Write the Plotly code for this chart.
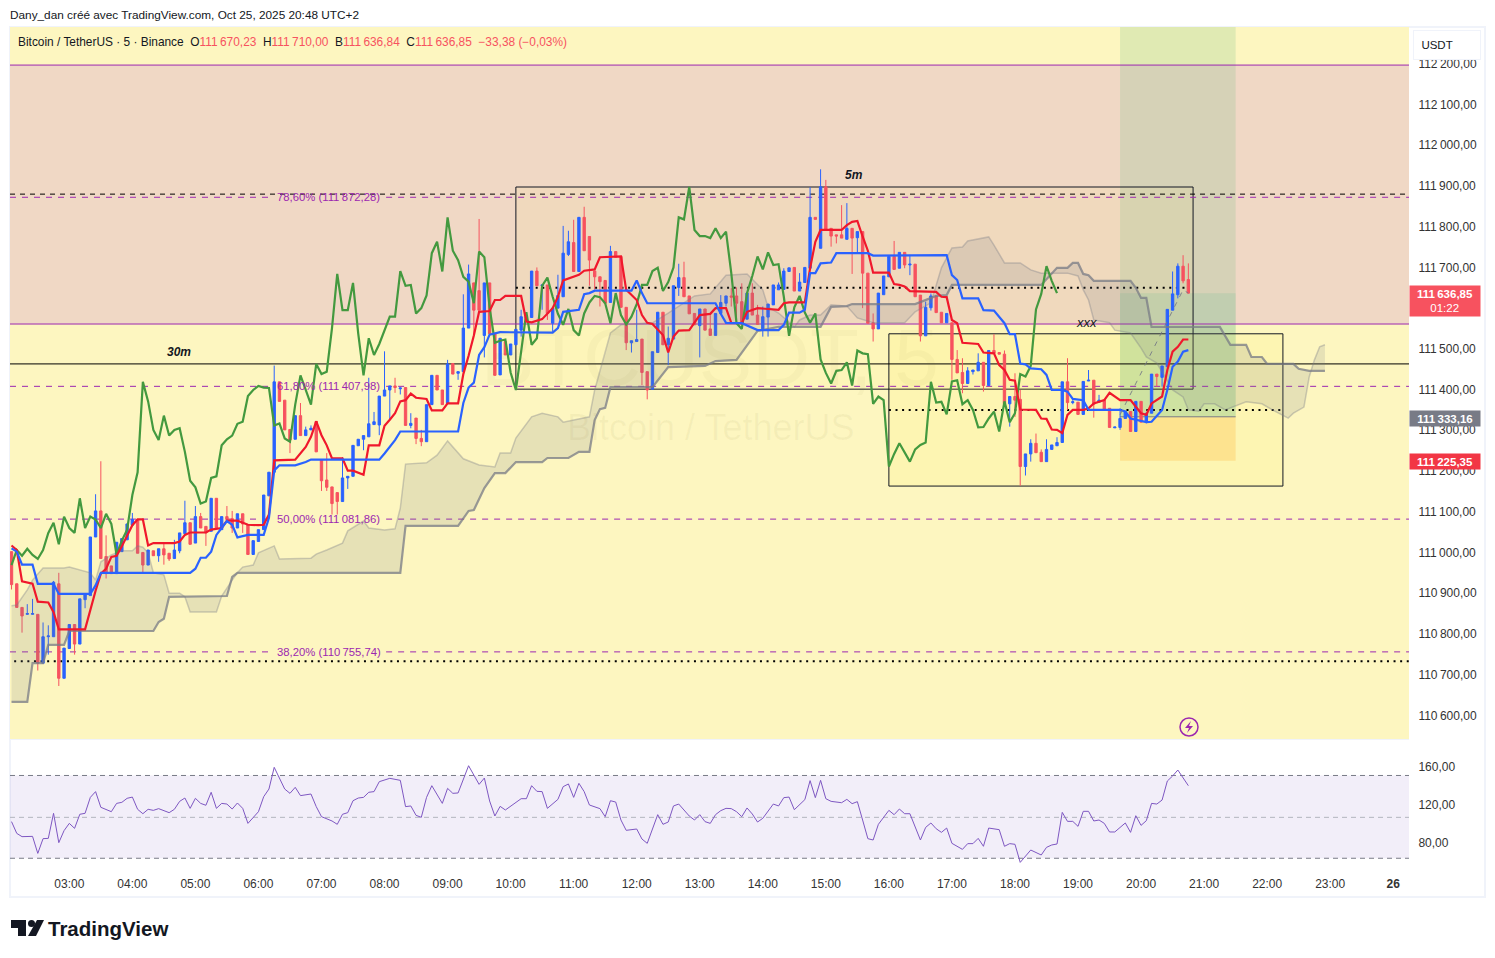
import plotly.graph_objects as go

# ---------- candles (bar 0 = 02:05, 5 min bars) ----------
OPEN = [111002,110923,110865,110848,110848,110848,110728,110793,110793,110923,
110691,110764,110823,110775,110884,110894,111038,111102,110990,110967,
110948,111002,111031,111067,111081,111000,110969,111004,110992,111009,
110998,110985,111004,111046,111073,111023,111088,111064,111052,111133,
111056,111088,111083,111060,111095,111068,110995,111027,111056,111139,
111197,111419,111374,111302,111278,111336,111287,111301,111322,111228,
111178,111161,111147,111125,111183,111187,111262,111278,111284,111314,
111313,111384,111399,111409,111402,111405,111312,111330,111280,111272,
111363,111435,111399,111366,111464,111440,111444,111551,111662,111643,
111533,111662,111537,111436,111518,111485,111510,111546,111577,111577,
111691,111655,111657,111563,111600,111628,111732,111761,111690,111823,
111776,111691,111677,111668,111614,111739,111727,111602,111515,111518,
111524,111444,111401,111491,111590,111510,111524,111651,111675,111630,
111587,111557,111598,111549,111533,111587,111612,111630,111630,111616,
111573,111637,111583,111546,111578,111608,111645,111646,111690,111700,
111642,111663,111698,111823,111747,111898,111796,111780,111780,111769,
111796,111773,111788,111686,111564,111549,111633,111677,111727,111698,
111737,111706,111708,111632,111532,111601,111630,111590,111564,111564,
111474,111442,111415,111444,111446,111467,111410,111496,111491,111487,
111365,111383,111376,111211,111242,111268,111246,111223,111253,111262,
111270,111419,111368,111369,111339,111421,111423,111369,111374,111354,
111306,111307,111329,111346,111297,111371,111320,111342,111438,111430,
111456,111595,111633,111703,111670.23]
CLOSE = [110921,110865,110844,110850,110850,110728,110793,110795,110927,110691,
110765,110823,110775,110886,110896,111038,111102,110985,110948,110948,
111025,111034,111070,111081,110998,110969,111006,110992,111009,110994,
110984,111006,111048,111073,111020,111088,111060,111048,111133,111060,
111088,111081,111060,111095,111070,110995,111029,111056,111141,111197,
111419,111371,111301,111276,111336,111287,111301,111305,111247,111176,
111160,111120,111125,111183,111187,111263,111278,111287,111316,111321,
111384,111399,111409,111405,111404,111312,111317,111280,111272,111363,
111435,111399,111363,111463,111438,111444,111551,111684,111595,111595,
111662,111537,111435,111526,111485,111512,111548,111579,111579,111691,
111655,111657,111587,111600,111631,111735,111763,111690,111823,111741,
111718,111677,111665,111612,111739,111725,111602,111515,111520,111523,
111442,111399,111493,111590,111510,111526,111655,111675,111628,111586,
111559,111598,111546,111533,111587,111614,111630,111627,111612,111563,
111637,111583,111560,111579,111610,111657,111657,111691,111699,111642,
111664,111700,111823,111818,111898,111792,111777,111777,111772,111796,
111772,111788,111686,111563,111549,111637,111679,111727,111695,111737,
111706,111708,111628,111532,111602,111630,111589,111564,111587,111474,
111441,111415,111446,111448,111467,111410,111496,111489,111487,111365,
111383,111374,111211,111242,111268,111245,111223,111253,111264,111270,
111419,111368,111370,111339,111420,111423,111364,111374,111350,111307,
111308,111329,111346,111297,111371,111320,111342,111438,111432,111458,
111597,111635,111703,111667,111636.85]
HIGH = [111002,110923,110865,110873,110886,110848,110828,110821,110930,110950,
110765,110823,110823,110886,110896,111038,111143,111224,111042,110967,
111025,111034,111070,111097,111081,111000,111006,111004,111009,111023,
110998,111031,111048,111127,111073,111114,111097,111064,111133,111133,
111088,111114,111102,111095,111095,111068,111029,111056,111141,111197,
111459,111419,111374,111302,111336,111367,111309,111312,111322,111228,
111244,111161,111147,111234,111187,111263,111278,111287,111429,111345,
111384,111494,111409,111429,111405,111405,111342,111330,111301,111363,
111435,111435,111399,111473,111464,111444,111634,111707,111662,111819,
111662,111662,111537,111526,111518,111512,111548,111596,111579,111691,
111700,111657,111657,111600,111682,111802,111790,111817,111823,111849,
111776,111691,111677,111668,111753,111739,111727,111602,111520,111596,
111524,111444,111493,111590,111590,111555,111655,111709,111714,111630,
111587,111598,111598,111583,111587,111632,111630,111649,111651,111661,
111637,111661,111608,111604,111610,111657,111663,111698,111699,111700,
111686,111700,111897,111823,111941,111915,111796,111780,111853,111858,
111796,111788,111788,111686,111587,111637,111679,111727,111765,111737,
111737,111731,111708,111632,111616,111636,111630,111590,111587,111564,
111497,111477,111455,111448,111489,111467,111496,111536,111491,111496,
111383,111440,111399,111242,111278,111292,111253,111278,111264,111283,
111419,111477,111374,111369,111420,111448,111423,111387,111374,111354,
111308,111354,111346,111346,111371,111371,111342,111438,111438,111458,
111597,111690,111710,111730,111710]
LOW = [110909,110865,110803,110847,110847,110710,110728,110749,110793,110672,
110691,110764,110749,110775,110863,110894,111038,110985,110936,110948,
110948,111002,111031,111067,110998,110950,110969,110992,110977,110970,
110979,110985,110998,111046,111020,111023,111060,111016,111052,111060,
111056,111081,111048,111060,111048,110995,110995,111027,111056,111139,
111197,111371,111301,111244,111278,111287,111287,111301,111247,111151,
111151,111093,111093,111125,111156,111187,111262,111251,111284,111314,
111288,111384,111326,111392,111388,111312,111305,111266,111261,111272,
111363,111399,111363,111366,111438,111424,111444,111551,111533,111595,
111479,111537,111435,111436,111485,111485,111510,111530,111577,111577,
111655,111596,111571,111542,111600,111628,111728,111690,111690,111741,
111655,111646,111604,111612,111614,111725,111602,111497,111491,111518,
111411,111376,111401,111491,111510,111460,111524,111630,111628,111586,
111559,111479,111546,111533,111533,111587,111604,111604,111567,111563,
111573,111583,111560,111530,111530,111608,111645,111646,111690,111642,
111642,111663,111698,111818,111747,111792,111751,111759,111772,111769,
111684,111736,111600,111563,111518,111549,111633,111677,111695,111698,
111698,111681,111628,111518,111532,111594,111589,111564,111564,111424,
111441,111391,111415,111437,111446,111395,111410,111489,111487,111365,
111309,111333,111164,111189,111223,111245,111223,111223,111253,111262,
111270,111350,111364,111339,111339,111421,111331,111369,111350,111307,
111306,111301,111329,111297,111297,111320,111317,111342,111407,111407,
111456,111595,111624,111661,111636.84]

# ---------- Ichimoku: (bar, price) vertices ----------
TENKAN_I = [0,1,2,3,4,5,7,8,9,14,15,16,17,18,19,20,21,23,24,25,26,27,31,32,33,34,37,38,40,41,43,45,47,48,49,50,54,55,56,57,58,59,60,61,63,64,65,67,68,70,71,72,73,74,75,76,77,79,80,82,83,85,86,87,88,89,91,92,
93,94,97,98,99,101,103,104,105,108,109,111,112,116,117,119,120,121,122,124,125,126,127,129,130,131,133,134,136,137,139,140,142,146,147,148,151,152,153,154,158,159,160,161,162,163,164,167,168,
169,170,171,176,177,178,179,180,181,184,185,187,188,189,190,191,192,195,196,197,198,199,200,201,202,204,205,206,208,209,211,213,214,215,216,217,219,220,221,222,223,224]
TENKAN_V = [111017,111006,110929,110926,110923,110879,110877,110853,110811,110811,110861,110906,110948,110960,110989,110992,111015,111067,111081,111081,111017,111023,111023,111027,111043,111049,111049,111056,111060,111078,111078,111068,111067,111068,111093,111226,111228,111243,111259,111284,111322,111288,111263,111231,111231,111201,111201,111191,111263,111263,111311,111326,111342,111371,111374,111390,111380,111377,111349,111349,111366,111366,111438,111483,111533,111591,111593,111620,
111620,111630,111630,111567,111565,111573,111600,111628,111668,111682,111692,111695,111725,111727,111645,111620,111583,111564,111561,111534,111491,111530,111545,111546,111563,111583,111586,111600,111600,111564,111563,111591,111600,111596,111612,111614,111614,111698,111763,111792,111792,111804,111812,111814,111776,111741,111687,111687,111659,
111657,111653,111642,111640,111628,111627,111571,111563,111515,111512,111491,111489,111460,111448,111424,111422,111351,111350,111329,111328,111302,111301,111293,111338,111350,111350,111354,111366,111374,111392,111374,111374,111358,111342,111338,111366,111383,111448,111493,111505,111523,111523]
KIJUN_I = [0,1,2,4,5,8,9,15,16,17,34,35,36,37,38,39,40,41,42,43,45,48,49,50,51,54,56,57,70,71,73,74,85,86,87,88,89,90,91,93,
103,104,105,108,109,110,111,118,119,120,121,134,135,136,139,142,146,147,148,150,151,152,153,154,156,157,163,164,178,
179,180,181,184,185,187,189,190,191,192,193,194,196,197,198,200,201,202,204,205,211,212,213,216,217,219,220,221,222,223,224]
KIJUN_V = [111010,111002,110970,110970,110923,110923,110898,110898,110919,110950,110950,110960,110987,110987,111002,111043,111060,111077,111068,111037,111043,111043,111085,111201,111214,111214,111222,111228,111228,111243,111276,111297,111297,111367,111405,111417,111485,111504,111535,111541,
111540,111551,111591,111596,111634,111637,111643,111643,111668,111637,111612,111612,111586,111564,111563,111546,111546,111559,111589,111589,111596,111686,111686,111710,111712,111735,111735,111729,111730,
111681,111669,111624,111624,111595,111594,111563,111536,111536,111464,111462,111452,111450,111436,111399,111399,111395,111377,111374,111350,111350,111346,111329,111320,111321,111350,111399,111456,111469,111493,111497]
SPAN_A_I = [0,1,3,4,6,10,11,13,15,16,17,19,21,23,24,25,26,27,29,30,32,33,34,39,40,42,43,44,46,47,50,51,57,58,60,63,64,67,68,71,73,74,75,79,81,83,86,89,92,93,95,96,99,101,104,105,110,111,113,114,116,122,125,130,133,136,140,143,144,146,149,150,152,154,156,159,161,164,170,172,175,176,177,179,181,182,186,187,189,192,194,196,201,203,204,205,206,209,210,213,215,216,218,221,223,224,226,227,229,231,235,238,240,243,244,246,247,248,249,250]
SPAN_A_V = [110869,110871,110908,110932,110962,110962,110964,110957,110950,110932,110977,110994,111004,111004,111016,111013,110999,110950,110945,110900,110900,110891,110854,110854,110893,110932,110950,110964,110969,110999,111016,110984,110986,110996,111006,111023,111053,111077,111060,111055,111058,111109,111217,111220,111239,111274,111230,111215,111210,111244,111244,111281,111333,111342,111333,111320,111333,111399,111490,111539,111559,111564,111588,111630,111635,111681,111684,111645,111603,111588,111554,111571,111583,111583,111608,111605,111576,111564,111564,111591,111613,111657,111699,111748,111750,111765,111775,111755,111711,111711,111694,111686,111686,111679,111645,111620,111571,111564,111546,111539,111502,111480,111465,111399,111382,111350,111347,111365,111365,111350,111370,111365,111350,111330,111342,111357,111431,111473,111505,111510]
SPAN_B_I = [0,3,4,6,7,10,11,27,28,29,30,41,42,43,74,75,85,87,88,90,92,94,96,101,102,106,108,110,111,112,113,114,122,125,132,134,138,141,142,146,154,156,159,160,172,176,178,179,196,199,201,202,203,204,205,206,213,214,215,216,217,230,232,235,236,238,239,244,245,247,250]
SPAN_B_V = [110633,110633,110728,110728,110773,110773,110807,110807,110829,110837,110891,110893,110940,110950,110950,111065,111065,111102,111104,111158,111195,111195,111222,111222,111232,111232,111247,111247,111325,111352,111355,111406,111406,111455,111458,111470,111473,111527,111544,111554,111554,111603,111605,111610,111610,111630,111632,111657,111657,111699,111699,111711,111711,111684,111681,111667,111667,111650,111625,111625,111554,111554,111510,111510,111480,111480,111463,111463,111451,111446,111446]
LAG_SHIFT = 25  # lagging line is the close drawn 25 bars back

# ---------- lower pane indicator ----------
OSC_I = [0,1,2,4,5,6,7,8,9,10,11,12,13,14,15,16,17,19,20,21,22,23,24,25,26,27,28,30,31,32,33,34,35,36,37,38,39,40,41,42,43,44,45,47,48,49,50,52,53,54,55,57,58,59,61,62,63,64,65,66,67,68,69,70,72,74,75,76,77,78,79,80,82,83,84,85,87,89,90,91,92,93,94,97,98,99,100,101,102,103,104,105,106,107,108,109,110,112,113,114,115,116,117,119,120,121,123,124,125,126,127,129,130,131,132,133,134,135,136,137,138,139,140,
141,142,143,144,145,146,147,148,149,151,152,153,154,155,156,158,159,160,161,162,163,164,165,167,168,169,170,171,173,174,175,176,177,178,179,181,182,183,184,185,186,188,189,190,191,192,194,196,197,198,199,200,201,202,203,204,205,206,207,208,209,210,212,213,214,215,216,217,218,219,220,221,222,224]
OSC_V = [102.3,90,86.6,86.9,69.1,84.5,84.8,111,80.3,92.9,100.5,95.3,110,111,127.7,133.7,117.3,112.7,121.4,122.5,126.7,128,115.2,110.6,115.2,114.1,115.9,111.7,115.2,123.5,127,116.2,126.7,121.4,119.4,133,116.2,121.4,120.7,115.5,121.8,116.2,100.5,112.7,128.4,136.4,159.1,136.4,131.9,138.2,129.5,131.2,118,107.5,103,99.5,110,111.7,124.2,127,127.7,133,133.7,144.1,147.6,145.5,118,118.7,108.9,106.8,127.7,139.9,121.4,137.1,131.9,132.3,160.8,141.3,147.9,123.9,108.2,118.3,114.5,126.3,126.3,139.9,134,133.7,116.2,121.4,125.6,138.9,141.7,127.7,142.4,133.7,119.7,115.9,107.5,124.2,122.8,104,93.2,94.6,84.1,79.6,109.6,99.5,101.9,118.7,120.7,108.2,104,109.6,102.3,100.5,109.6,113.8,116.2,115.9,112.7,107.5,116.6,
110.3,101.9,105.8,112.7,120.7,118.7,127.4,128,114.8,125.3,145.2,127.4,145.5,126.3,123.5,122.1,125.6,121.1,123.2,104,84.5,83.1,99.5,114.1,109.6,115.5,110.6,110.6,83.1,96.3,100.9,94.9,91.1,95.6,79.6,73.3,79.3,79.3,84.8,76.5,95.6,93.9,76.5,79.3,78.6,59.7,72.6,67.4,75.4,77.9,78.9,112,102.6,102.6,97.4,113.1,113.1,103,104,100.5,91.5,91.5,100.9,91.1,108.5,98.4,103.3,121.4,120.7,124.9,144.8,150,156.3,139.9]
OSC_BANDS = [150.6, 106.8, 64]
OSC_TICKS = [160, 120, 80]
OSC_TICK_TEXT = ["160,00", "120,00", "80,00"]

# ---------- levels ----------
ZONE_TOP, ZONE_BOTTOM = 112197, 111561
BLACK_LEVEL = 111463
BLACK_DASH_LEVEL = 111880
FIB_LEVELS = [111872.28, 111407.98, 111081.86, 110755.74]
FIB_TEXT = ["78,60% (111\u2009872,28)", "61,80% (111\u2009407,98)", "50,00% (111\u2009081,86)", "38,20% (110\u2009755,74)"]
DOTTED = [(110733, 0.5, 266), (111650, 96, 224), (111350, 167, 242)]
BOX_1 = (96, 224.9, 111401, 111897.5)
BOX_2 = (167, 242, 111163, 111537)
ENTRY, STOP, LAST = 111333.16, 111225.35, 111636.85
POS_L, POS_R = 211, 233
Y_TICKS = [110600 + 100 * k for k in range(17)]
Y_TICK_TEXT = [f"{v // 1000}\u2009{v % 1000:03d},00" for v in Y_TICKS]
HOUR_TICKS = [11 + 12 * k for k in range(21)] + [263]
HOUR_TEXT = [f"{h:02d}:00" for h in range(3, 24)] + ["<b>26</b>"]

FONT = "Liberation Sans, Arial, sans-serif"
RED, BLUE, PURPLE = "#F7525F", "#2962FF", "#9C27B0"
W, H = 1495, 958


def px(x):
    return x / W


def py(y):
    return (H - y) / H


def path(points, close=True):
    s = "M" + " L".join(f"{px(a):.5f},{py(b):.5f}" for a, b in points)
    return s + (" Z" if close else "")


fig = go.Figure()
N = len(CLOSE)
BARS = list(range(N))

# cloud
fig.add_trace(go.Scatter(x=SPAN_A_I + SPAN_B_I[::-1], y=SPAN_A_V + SPAN_B_V[::-1], fill="toself",
                         fillcolor="rgba(120,123,134,0.17)", mode="none", hoverinfo="skip", showlegend=False))
fig.add_trace(go.Scatter(x=SPAN_A_I, y=SPAN_A_V, mode="lines", line=dict(color="rgba(120,123,134,0.35)", width=1.5), showlegend=False))
fig.add_trace(go.Scatter(x=SPAN_B_I, y=SPAN_B_V, mode="lines", line=dict(color="rgba(120,123,134,0.75)", width=2.2), showlegend=False))
# lagging
fig.add_trace(go.Scatter(x=BARS[:N - LAG_SHIFT], y=CLOSE[LAG_SHIFT:], mode="lines", line=dict(color="#43993F", width=2.2), showlegend=False))
# candles
fig.add_trace(go.Candlestick(x=BARS, open=OPEN, high=HIGH, low=LOW, close=CLOSE, whiskerwidth=0,
                             increasing=dict(line=dict(color=BLUE, width=1), fillcolor=BLUE),
                             decreasing=dict(line=dict(color=RED, width=1), fillcolor=RED), showlegend=False))
fig.add_trace(go.Scatter(x=TENKAN_I, y=TENKAN_V, mode="lines", line=dict(color="#F0182C", width=2.2), showlegend=False))
fig.add_trace(go.Scatter(x=KIJUN_I, y=KIJUN_V, mode="lines", line=dict(color="#2962FF", width=2.2), showlegend=False))
# position tool path
fig.add_trace(go.Scatter(x=[POS_L, 223, 224], y=[ENTRY + 5, 111645, LAST], mode="lines",
                         line=dict(color="rgba(120,123,134,0.9)", width=1, dash="5px,6px"), showlegend=False))
# oscillator
fig.add_trace(go.Scatter(x=OSC_I, y=OSC_V, xaxis="x2", yaxis="y2", mode="lines", line=dict(color="#7E57C2", width=1), showlegend=False))

shapes = []


def rect(x0, x1, y0, y1, fill, line=None):
    shapes.append(dict(type="rect", xref="x", yref="y", x0=x0, x1=x1, y0=y0, y1=y1, fillcolor=fill,
                       line=dict(color=line or "rgba(0,0,0,0)", width=1 if line else 0), layer="below"))


def hline(level, x0=-0.29, x1=266, color="black", width=1, dash="solid"):
    shapes.append(dict(type="line", xref="x", yref="y", x0=x0, x1=x1, y0=level, y1=level,
                       line=dict(color=color, width=width, dash=dash), layer="below"))


Y_TOP, Y_BOTTOM = 112290.5, 110541.8
rect(-0.29, 266, Y_BOTTOM, Y_TOP, "#FDF6C0")
rect(-0.29, 266, ZONE_BOTTOM, ZONE_TOP, "#F0D8C5")
rect(POS_L, POS_R, ENTRY, Y_TOP, "rgba(110,190,130,0.2)")
rect(POS_L, POS_R, ENTRY, LAST, "rgba(110,190,150,0.2)")
rect(POS_L, POS_R, STOP, ENTRY, "rgba(255,152,0,0.2)")
rect(BOX_1[0], BOX_1[1], BOX_1[2], BOX_1[3], "rgba(255,235,59,0.05)", "#131722")
rect(BOX_2[0], BOX_2[1], BOX_2[2], BOX_2[3], "rgba(255,235,59,0.1)", "#131722")
hline(ZONE_TOP, color=PURPLE)
hline(ZONE_BOTTOM, color=PURPLE)
hline(BLACK_LEVEL)
hline(BLACK_DASH_LEVEL, dash="5px,5px")
hline(ENTRY, POS_L, POS_R, color="#787B86")
for lv in FIB_LEVELS:
    hline(lv, -0.29, 49.6, color=PURPLE, dash="6px,6px")
    hline(lv, 71.3, 266, color=PURPLE, dash="6px,6px")
for lv, a, b in DOTTED:
    hline(lv, a, b, color="black", width=2, dash="2px,4.6px")

# lower pane band
shapes.append(dict(type="rect", xref="x2", yref="y2", x0=-0.29, x1=266, y0=OSC_BANDS[2], y1=OSC_BANDS[0],
                   fillcolor="rgba(126,87,194,0.1)", line=dict(width=0), layer="below"))
for b, c in zip(OSC_BANDS, ["#787B86", "#B2B5BE", "#787B86"]):
    shapes.append(dict(type="line", xref="x2", yref="y2", x0=-0.29, x1=266, y0=b, y1=b,
                       line=dict(color=c, width=1, dash="5px,4px"), layer="below"))

# frame and pane separator
shapes.append(dict(type="rect", xref="paper", yref="paper", x0=px(10), x1=px(1485), y0=py(897), y1=py(27),
                   line=dict(color="#F0F3FA", width=2), layer="below"))
shapes.append(dict(type="line", xref="paper", yref="paper", x0=px(10), x1=px(1409), y0=py(739.5), y1=py(739.5),
                   line=dict(color="#F0F3FA", width=1), layer="below"))

# TradingView logo
for pts in ([(11, 920), (26, 920), (26, 936), (18, 936), (18, 928), (11, 928)],
            [(37, 920), (44, 920), (36, 936), (28, 936)]):
    shapes.append(dict(type="path", xref="paper", yref="paper", path=path(pts), fillcolor="#131722", line=dict(width=0)))
shapes.append(dict(type="circle", xref="paper", yref="paper", x0=px(28), x1=px(35), y0=py(927), y1=py(920),
                   fillcolor="#131722", line=dict(width=0)))
# lightning badge
shapes.append(dict(type="circle", xref="paper", yref="paper", x0=px(1180), x1=px(1198), y0=py(736), y1=py(718),
                   fillcolor="rgba(255,255,255,0)", line=dict(color=PURPLE, width=1.5)))
shapes.append(dict(type="path", xref="paper", yref="paper", path=path([(1191, 721), (1185, 728), (1189, 728), (1187, 733), (1193, 726), (1189, 726)]),
                   fillcolor=PURPLE, line=dict(width=0)))

ann = []


def text(x, y, s, size=12, color="#131722", anchor="left", **kw):
    shift = -2 if anchor == "left" else 0
    ann.append(dict(xref="paper", yref="paper", x=px(x + shift), y=py(y), text=s, showarrow=False, xanchor=anchor,
                    yanchor="middle", font=dict(family=FONT, size=size, color=color), **kw))


text(10, 15, "Dany_dan créé avec TradingView.com, Oct 25, 2025 20:48 UTC+2", 11.8)
v = lambda t: f'<span style="color:{RED}">{t}</span>'
text(18, 42, "Bitcoin / TetherUS · 5 · Binance&nbsp;&nbsp;O" + v("111\u2009670,23") + "&nbsp;&nbsp;H" + v("111\u2009710,00")
     + "&nbsp;&nbsp;B" + v("111\u2009636,84") + "&nbsp;&nbsp;C" + v("111\u2009636,85") + "&nbsp;&nbsp;" + v("−33,38 (−0,03%)"), 11.9)
text(48, 928, "<b>TradingView</b>", 20.5)
text(710, 357, "BTCUSDT, 5", 80, "rgba(120,110,40,0.045)", "center")
text(710, 427, "Bitcoin / TetherUS", 36, "rgba(120,110,40,0.06)", "center")
text(179, 352, "<b><i>30m</i></b>", 12, anchor="center")
text(854, 175, "<b><i>5m</i></b>", 12, anchor="center")
text(1086, 323, "<i>xxx</i>", 13, anchor="center")
for lv, s in zip(FIB_LEVELS, FIB_TEXT):
    ann.append(dict(xref="x", yref="y", x=60.4, y=lv, text=s, showarrow=False, xanchor="center", yanchor="middle",
                    font=dict(family=FONT, size=11.3, color=PURPLE)))

# right-hand tags
def tag(y, s, bg, height, width=70):
    ann.append(dict(xref="paper", yref="paper", x=px(1445), y=py(y), text=s, showarrow=False, xanchor="center", yanchor="middle",
                    width=width, height=height, bgcolor=bg, borderpad=0, align="center",
                    font=dict(family=FONT, size=11.5, color="white")))


tag(301, "<b>111\u2009636,85</b><br>01:22", RED, 30)
tag(418.5, "<b>111\u2009333,16</b>", "#787B86", 15)
tag(461.5, "<b>111\u2009225,35</b>", "#F23645", 15)
ann.append(dict(xref="paper", yref="paper", x=px(1447), y=py(45.5), text="&nbsp;&nbsp;USDT", showarrow=False, xanchor="center", yanchor="middle",
                width=64, height=26, bgcolor="white", bordercolor="#F0F3FA", borderwidth=1, align="left",
                font=dict(family=FONT, size=11.5, color="#131722")))

axis_font = dict(family=FONT, size=12, color="#333333")
fig.update_layout(
    width=W, height=H, margin=dict(l=0, r=0, t=0, b=0), paper_bgcolor="white", plot_bgcolor="white",
    showlegend=False, boxgap=0.36, shapes=shapes, annotations=ann, hovermode=False,
    xaxis=dict(domain=[px(10), px(1409)], range=[-0.29, 266], showgrid=False, zeroline=False, showticklabels=False,
               rangeslider=dict(visible=False), anchor="y", ticks=""),
    yaxis=dict(domain=[py(739), py(27)], range=[Y_BOTTOM, Y_TOP], side="right", showgrid=False, zeroline=False, tickmode="array",
               tickvals=Y_TICKS, ticktext=Y_TICK_TEXT, ticks="outside", ticklen=6, tickcolor="rgba(0,0,0,0)", tickfont=axis_font, anchor="x"),
    xaxis2=dict(domain=[px(10), px(1409)], range=[-0.29, 266], matches="x", showgrid=False, zeroline=False, tickmode="array",
                tickvals=HOUR_TICKS, ticktext=HOUR_TEXT, ticks="outside", ticklen=7, tickcolor="rgba(0,0,0,0)", tickfont=axis_font, anchor="y2"),
    yaxis2=dict(domain=[py(866), py(740)], range=[55.9, 187.7], side="right", showgrid=False, zeroline=False, tickmode="array",
                tickvals=OSC_TICKS, ticktext=OSC_TICK_TEXT, ticks="outside", ticklen=6, tickcolor="rgba(0,0,0,0)", tickfont=axis_font, anchor="x2"),
)
fig.write_html("out.html", config=dict(displayModeBar=False),
               post_script="document.body.style.margin='0';document.body.style.background='white';")
